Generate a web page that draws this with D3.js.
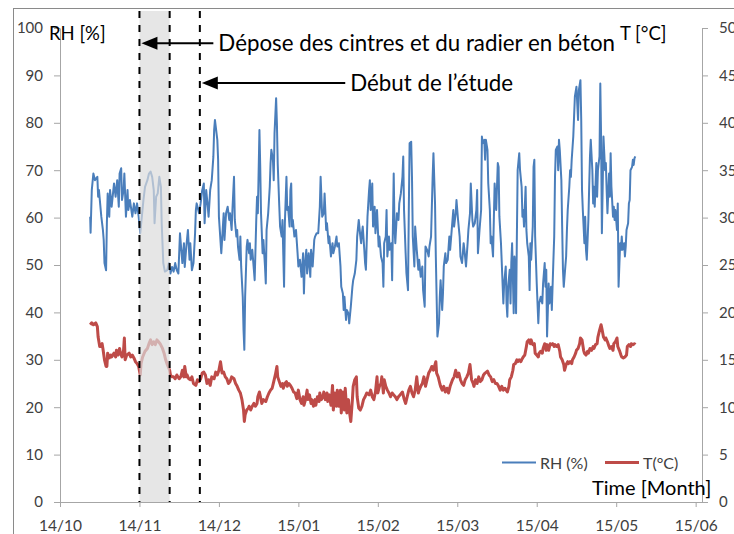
<!DOCTYPE html>
<html>
<head>
<meta charset="utf-8">
<script src="https://cdn.jsdelivr.net/npm/d3@7"></script>
<style>
  body { margin: 0; background: #fff; }
  svg text { font-family: Lato, "Open Sans", sans-serif; }
</style>
</head>
<body>
<svg id="chart" width="734" height="534"></svg>
<script>
// Time is counted in months since 14/10 (one tick per month).
const monthLabels = ["14/10", "14/11", "14/12", "15/01", "15/02", "15/03", "15/04", "15/05", "15/06"];
const rhTicks = [0, 10, 20, 30, 40, 50, 60, 70, 80, 90, 100];
const tTicks = [0, 5, 10, 15, 20, 25, 30, 35, 40, 45, 50];

// Works period (shaded) and start of the study.
const works = [1.0, 1.38];
const studyStart = 1.76;

// [month, RH %]
const rhData = [
  [0.38,60.2],[0.385,56.8],[0.40,65.8],[0.42,69.3],[0.44,67.9],[0.47,68.6],[0.48,64.4],[0.49,65.8],[0.52,60.2],[0.54,57.4],
  [0.55,55.3],[0.56,50.4],[0.58,48.9],[0.59,58.9],[0.60,65.1],[0.62,60.2],[0.63,65.8],[0.65,62.3],[0.68,67.2],[0.70,64.4],
  [0.72,67.9],[0.74,62.3],[0.75,69.3],[0.77,70.4],[0.78,63.7],[0.80,65.8],[0.81,69.3],[0.83,60.2],[0.85,65.8],[0.86,61.6],
  [0.88,63.7],[0.91,60.2],[0.93,63.0],[0.95,60.9],[0.97,63.0],[0.99,60.2],[1.01,56.7],[1.03,60.2],[1.05,63.7],[1.07,66.5],
  [1.10,67.9],[1.12,69.3],[1.14,69.7],[1.16,68.6],[1.18,65.8],[1.19,58.8],[1.21,64.4],[1.23,65.1],[1.25,68.6],[1.27,66.5],
  [1.28,58.8],[1.30,50.4],[1.32,48.6],[1.35,48.9],[1.37,50.4],[1.39,48.2],[1.41,49.6],[1.43,48.6],[1.45,50.4],[1.47,48.9],
  [1.49,48.2],[1.51,56.7],[1.54,50.4],[1.56,54.6],[1.57,49.6],[1.59,53.9],[1.61,57.4],[1.63,51.1],[1.64,54.6],[1.66,48.9],
  [1.68,50.4],[1.70,56.7],[1.71,61.6],[1.72,63.0],[1.75,60.9],[1.77,63.0],[1.79,65.8],[1.81,67.2],[1.82,58.8],[1.84,65.8],
  [1.86,62.3],[1.87,60.2],[1.89,65.8],[1.91,67.9],[1.93,72.8],[1.94,78.5],[1.95,80.6],[1.98,76.4],[1.99,72.2],[2.00,60.2],
  [2.03,52.5],[2.06,60.9],[2.07,55.3],[2.09,60.9],[2.11,62.3],[2.13,59.5],[2.14,60.9],[2.16,57.4],[2.17,61.6],[2.19,68.6],
  [2.20,59.5],[2.22,56.0],[2.23,57.4],[2.24,53.9],[2.26,51.1],[2.27,56.0],[2.28,49.7],[2.30,43.3],[2.31,36.3],[2.32,32.1],
  [2.33,43.3],[2.35,53.9],[2.36,55.3],[2.38,52.5],[2.39,54.6],[2.40,51.1],[2.42,53.2],[2.44,49.0],[2.45,46.8],[2.47,59.5],
  [2.48,64.4],[2.49,60.9],[2.51,78.5],[2.52,70.8],[2.53,60.9],[2.55,52.5],[2.56,55.3],[2.58,49.7],[2.59,46.1],[2.60,57.4],
  [2.62,60.9],[2.64,66.5],[2.65,71.4],[2.66,74.3],[2.68,72.2],[2.69,67.9],[2.70,77.8],[2.72,85.2],[2.73,79.9],[2.74,71.4],
  [2.76,62.3],[2.77,58.1],[2.79,56.0],[2.80,59.5],[2.82,45.4],[2.83,58.8],[2.85,68.6],[2.86,61.6],[2.87,62.3],[2.89,58.1],
  [2.90,65.8],[2.91,67.2],[2.92,58.1],[2.93,59.5],[2.95,56.0],[2.97,57.4],[2.99,52.5],[3.00,49.7],[3.02,51.1],[3.04,47.5],
  [3.06,52.5],[3.07,44.0],[3.08,49.7],[3.10,53.2],[3.11,48.2],[3.13,52.5],[3.15,47.5],[3.16,53.2],[3.18,49.7],[3.20,55.3],
  [3.21,56.0],[3.23,56.7],[3.25,56.7],[3.27,62.3],[3.28,68.6],[3.30,60.2],[3.32,60.9],[3.33,65.1],[3.35,57.4],[3.36,58.8],
  [3.38,54.6],[3.39,56.0],[3.41,51.8],[3.43,54.6],[3.44,52.5],[3.46,53.9],[3.48,56.0],[3.49,53.9],[3.51,54.6],[3.53,49.7],
  [3.54,45.4],[3.56,44.0],[3.57,40.5],[3.58,43.3],[3.60,38.4],[3.61,40.5],[3.63,39.8],[3.64,37.7],[3.66,41.2],[3.68,45.4],
  [3.69,46.8],[3.71,48.2],[3.73,51.1],[3.74,56.0],[3.76,59.5],[3.78,56.0],[3.79,54.6],[3.80,56.7],[3.81,58.1],[3.83,53.2],
  [3.84,50.4],[3.85,49.0],[3.87,60.2],[3.89,65.8],[3.90,67.9],[3.91,61.6],[3.93,67.2],[3.94,58.1],[3.96,62.3],[3.97,56.7],
  [3.99,61.6],[4.01,53.9],[4.02,56.0],[4.04,51.8],[4.06,50.4],[4.07,45.4],[4.08,54.6],[4.10,56.0],[4.11,61.6],[4.12,51.8],
  [4.14,56.0],[4.15,53.2],[4.17,54.6],[4.18,46.8],[4.20,69.3],[4.21,58.1],[4.22,54.6],[4.24,60.9],[4.26,59.5],[4.27,63.0],
  [4.29,65.1],[4.31,68.6],[4.32,72.9],[4.33,61.6],[4.35,52.5],[4.36,48.3],[4.38,44.7],[4.39,61.6],[4.40,75.7],[4.42,76.0],
  [4.43,68.6],[4.44,56.0],[4.46,49.7],[4.47,58.1],[4.49,53.2],[4.51,49.0],[4.52,51.1],[4.54,47.5],[4.56,49.7],[4.57,44.7],
  [4.59,41.2],[4.60,53.9],[4.62,53.2],[4.64,51.8],[4.65,53.9],[4.67,56.0],[4.69,68.6],[4.70,73.6],[4.72,63.0],[4.73,51.8],
  [4.74,43.3],[4.75,34.9],[4.77,37.7],[4.78,43.3],[4.79,46.8],[4.81,40.5],[4.82,44.0],[4.83,49.7],[4.85,52.5],[4.86,50.4],
  [4.88,51.1],[4.90,56.0],[4.91,53.2],[4.93,57.4],[4.95,61.6],[4.96,58.1],[4.98,60.9],[4.99,63.7],[5.01,59.5],[5.03,56.0],
  [5.04,51.8],[5.06,50.4],[5.08,54.6],[5.09,53.2],[5.11,49.7],[5.13,54.6],[5.14,57.4],[5.16,60.9],[5.17,67.2],[5.19,59.5],
  [5.20,58.1],[5.22,58.8],[5.24,61.6],[5.25,65.8],[5.26,52.5],[5.28,57.4],[5.30,61.6],[5.31,77.1],[5.32,75.7],[5.34,76.4],
  [5.35,72.2],[5.36,76.4],[5.38,74.3],[5.39,67.2],[5.41,61.6],[5.42,54.6],[5.43,56.0],[5.45,51.8],[5.46,59.5],[5.47,67.2],
  [5.49,61.6],[5.51,71.5],[5.52,70.7],[5.53,60.2],[5.55,54.6],[5.58,41.9],[5.59,46.1],[5.61,49.7],[5.62,41.9],[5.63,39.1],
  [5.64,45.4],[5.66,49.0],[5.67,41.9],[5.68,50.4],[5.69,54.6],[5.71,39.8],[5.72,51.8],[5.73,49.0],[5.74,39.8],[5.75,56.0],
  [5.76,70.0],[5.78,73.6],[5.79,70.0],[5.81,66.5],[5.82,60.2],[5.83,61.6],[5.84,58.1],[5.86,66.5],[5.87,57.4],[5.88,54.6],
  [5.90,51.8],[5.91,44.7],[5.92,54.6],[5.93,51.1],[5.95,58.1],[5.96,70.7],[5.97,72.2],[5.98,56.0],[6.00,46.1],[6.01,41.9],
  [6.02,37.7],[6.03,41.9],[6.05,43.3],[6.07,41.9],[6.08,46.1],[6.10,50.4],[6.11,45.4],[6.12,49.0],[6.13,34.9],[6.15,46.1],
  [6.16,41.9],[6.18,45.4],[6.19,40.5],[6.21,51.1],[6.22,56.0],[6.23,68.6],[6.24,74.3],[6.26,75.0],[6.27,70.0],[6.28,76.4],
  [6.29,74.3],[6.31,67.9],[6.32,58.1],[6.33,49.0],[6.34,45.4],[6.36,49.7],[6.37,51.8],[6.38,57.4],[6.39,61.6],[6.41,66.5],
  [6.42,70.0],[6.43,68.6],[6.44,72.2],[6.46,77.1],[6.47,81.3],[6.48,85.5],[6.50,87.6],[6.51,84.1],[6.52,80.6],[6.53,86.9],
  [6.55,89.0],[6.56,80.6],[6.57,65.8],[6.58,61.6],[6.60,54.6],[6.61,60.2],[6.62,53.2],[6.63,51.1],[6.65,59.5],[6.66,66.5],
  [6.67,72.9],[6.68,76.4],[6.70,70.0],[6.71,63.0],[6.72,66.5],[6.73,62.3],[6.75,71.5],[6.76,64.4],[6.77,70.0],[6.79,72.9],
  [6.80,88.3],[6.81,77.1],[6.82,56.7],[6.83,66.5],[6.84,77.1],[6.86,70.0],[6.87,71.5],[6.88,65.8],[6.89,60.9],[6.91,69.3],
  [6.92,64.4],[6.93,73.6],[6.94,66.5],[6.96,60.2],[6.97,62.3],[6.98,59.5],[6.99,61.6],[7.01,57.4],[7.02,63.0],[7.03,45.4],
  [7.05,54.6],[7.06,53.2],[7.07,56.0],[7.08,53.2],[7.10,54.6],[7.11,51.8],[7.12,53.9],[7.13,57.4],[7.15,58.8],[7.16,63.0],
  [7.17,63.7],[7.18,70.0],[7.20,70.7],[7.21,72.2],[7.22,71.1],[7.23,72.5],[7.24,72.9]
];

// [month, T °C]
const tData = [
  [0.38,18.7],[0.40,18.9],[0.42,18.7],[0.45,18.9],[0.47,18.5],[0.48,17.4],[0.50,16.4],[0.51,16.4],[0.53,16.7],[0.54,16.2],
  [0.56,15.0],[0.58,14.3],[0.59,14.3],[0.60,15.7],[0.62,15.2],[0.64,15.5],[0.65,15.3],[0.68,15.7],[0.70,15.3],[0.71,16.0],
  [0.73,15.5],[0.75,16.2],[0.76,15.7],[0.78,15.3],[0.80,16.0],[0.81,17.3],[0.82,15.0],[0.84,15.5],[0.87,15.7],[0.89,15.3],
  [0.91,15.5],[0.93,15.2],[0.95,14.8],[0.97,14.6],[0.99,14.3],[1.01,13.4],[1.02,14.6],[1.04,15.3],[1.07,15.9],[1.10,16.2],
  [1.12,16.7],[1.14,17.1],[1.16,16.6],[1.18,16.9],[1.20,16.6],[1.22,17.1],[1.24,16.9],[1.26,16.7],[1.29,16.2],[1.31,15.7],
  [1.33,15.0],[1.35,14.5],[1.38,13.9],[1.39,13.4],[1.41,13.2],[1.43,13.2],[1.45,13.0],[1.47,13.4],[1.50,13.0],[1.52,13.2],
  [1.54,13.9],[1.56,13.2],[1.57,14.3],[1.59,13.2],[1.60,13.4],[1.62,13.0],[1.64,12.9],[1.66,13.2],[1.68,12.5],[1.71,12.3],
  [1.73,12.9],[1.75,12.7],[1.77,13.0],[1.79,13.6],[1.81,13.7],[1.83,13.4],[1.85,12.5],[1.87,12.9],[1.89,12.3],[1.91,13.2],
  [1.94,13.0],[1.96,13.7],[1.98,13.4],[2.00,13.9],[2.02,14.8],[2.04,13.6],[2.06,13.7],[2.08,13.2],[2.10,13.0],[2.12,12.5],
  [2.14,12.7],[2.16,13.2],[2.19,13.0],[2.21,12.5],[2.23,12.2],[2.25,11.8],[2.27,11.5],[2.29,10.8],[2.31,9.7],[2.32,8.5],
  [2.33,9.2],[2.35,9.7],[2.37,9.9],[2.38,10.1],[2.40,9.7],[2.42,10.1],[2.44,10.4],[2.46,10.1],[2.48,10.4],[2.49,11.1],
  [2.51,11.6],[2.53,10.8],[2.54,10.4],[2.56,10.8],[2.59,10.6],[2.61,11.1],[2.63,11.5],[2.65,11.8],[2.67,12.0],[2.69,12.7],
  [2.71,13.4],[2.73,14.3],[2.74,13.2],[2.76,12.7],[2.78,12.2],[2.80,12.5],[2.81,12.0],[2.83,12.5],[2.85,12.7],[2.86,12.2],
  [2.88,12.5],[2.90,12.3],[2.92,12.0],[2.94,11.6],[2.96,11.5],[2.98,10.9],[3.00,11.8],[3.02,10.8],[3.04,10.4],[3.06,11.1],
  [3.07,10.2],[3.09,10.8],[3.11,11.8],[3.12,10.8],[3.14,11.3],[3.16,10.4],[3.17,10.8],[3.19,10.1],[3.21,10.8],[3.22,10.2],
  [3.24,11.1],[3.26,10.6],[3.27,11.5],[3.29,10.8],[3.31,11.1],[3.32,11.6],[3.34,10.8],[3.36,11.5],[3.37,10.6],[3.39,11.3],
  [3.41,10.2],[3.43,12.3],[3.44,9.7],[3.46,11.5],[3.48,10.1],[3.49,11.8],[3.51,10.1],[3.53,11.8],[3.54,9.4],[3.56,11.6],
  [3.58,9.7],[3.59,12.0],[3.61,9.4],[3.63,10.8],[3.64,9.7],[3.66,8.5],[3.68,10.8],[3.69,12.2],[3.71,12.9],[3.73,13.2],
  [3.74,11.1],[3.76,9.9],[3.78,9.7],[3.80,10.1],[3.82,10.8],[3.84,11.1],[3.86,11.5],[3.89,11.3],[3.91,11.8],[3.93,11.1],
  [3.95,10.8],[3.97,11.6],[3.99,13.2],[4.00,11.5],[4.02,12.2],[4.04,12.5],[4.05,13.2],[4.07,11.5],[4.08,12.9],[4.10,12.2],
  [4.12,11.8],[4.14,11.5],[4.16,11.1],[4.18,11.5],[4.20,11.3],[4.22,11.1],[4.24,10.8],[4.26,11.1],[4.28,11.3],[4.31,11.6],
  [4.33,10.9],[4.35,10.4],[4.37,11.1],[4.39,11.8],[4.41,12.2],[4.43,11.5],[4.45,11.1],[4.47,11.8],[4.49,13.2],[4.51,11.5],
  [4.52,11.8],[4.54,12.2],[4.56,12.5],[4.58,13.2],[4.60,12.2],[4.62,12.9],[4.64,13.6],[4.66,13.9],[4.68,14.3],[4.70,13.9],
  [4.73,14.8],[4.74,13.6],[4.76,13.2],[4.78,12.5],[4.79,12.2],[4.81,11.8],[4.83,12.2],[4.85,11.6],[4.87,12.0],[4.89,11.5],
  [4.91,12.2],[4.94,12.9],[4.96,13.2],[4.98,13.9],[5.00,13.2],[5.02,13.6],[5.04,12.9],[5.06,12.5],[5.08,12.3],[5.10,12.9],
  [5.12,13.2],[5.14,13.6],[5.16,14.5],[5.18,12.9],[5.20,12.5],[5.21,12.2],[5.23,12.9],[5.25,12.5],[5.27,13.2],[5.29,12.7],
  [5.31,12.9],[5.33,13.4],[5.35,13.6],[5.38,13.8],[5.40,13.4],[5.42,13.2],[5.44,12.7],[5.46,12.9],[5.48,12.5],[5.50,12.5],
  [5.52,12.2],[5.54,11.8],[5.56,12.2],[5.58,11.8],[5.60,12.0],[5.63,11.6],[5.65,12.2],[5.66,12.9],[5.68,13.2],[5.70,13.9],
  [5.71,14.5],[5.73,14.6],[5.75,15.0],[5.76,14.8],[5.78,15.0],[5.80,14.8],[5.81,15.0],[5.83,15.3],[5.85,15.5],[5.87,16.4],
  [5.88,16.9],[5.90,17.1],[5.92,16.7],[5.93,17.1],[5.95,16.6],[5.97,16.7],[5.98,15.7],[6.00,15.5],[6.02,15.3],[6.03,15.7],
  [6.05,15.9],[6.07,15.7],[6.08,16.2],[6.10,16.7],[6.12,16.0],[6.13,16.6],[6.15,16.0],[6.17,16.7],[6.18,16.6],[6.20,16.7],
  [6.22,16.4],[6.23,16.6],[6.25,16.4],[6.27,16.6],[6.29,15.9],[6.30,15.3],[6.32,15.0],[6.34,14.5],[6.35,13.9],[6.37,14.5],
  [6.39,14.8],[6.40,14.6],[6.42,14.8],[6.44,14.6],[6.45,15.0],[6.47,15.3],[6.49,15.7],[6.50,16.0],[6.52,16.2],[6.54,16.7],
  [6.55,17.3],[6.57,17.1],[6.59,16.0],[6.60,15.7],[6.62,15.5],[6.64,15.9],[6.65,15.7],[6.67,16.2],[6.69,16.0],[6.71,16.4],
  [6.72,16.2],[6.74,16.6],[6.76,16.7],[6.77,17.4],[6.79,18.1],[6.81,18.7],[6.82,18.3],[6.84,17.4],[6.86,17.1],[6.87,17.3],
  [6.89,16.9],[6.91,16.4],[6.92,16.2],[6.94,16.4],[6.96,16.0],[6.97,16.7],[6.99,16.9],[7.01,17.3],[7.02,16.4],[7.04,16.0],
  [7.06,15.5],[7.07,15.3],[7.09,15.2],[7.11,15.3],[7.13,15.5],[7.14,16.4],[7.16,16.6],[7.18,16.4],[7.19,16.7],[7.21,16.6],
  [7.23,16.7],[7.24,16.6]
];

// Arrow annotations: tip at a month, tail at a month, height on the RH scale.
const annotations = [
  { label: "Dépose des cintres et du radier en béton", tip: works[0], tail: 1.93, level: 96.8 },
  { label: "Début de l’étude", tip: studyStart, tail: 3.59, level: 88.4 }
];

const rhColor = "#4a7ebb";
const tColor = "#be4b48";
const axisColor = "#a6a6a6";

const svg = d3.select("#chart");

// Scales: both value axes share the same pixel range.
const x = d3.scaleLinear().domain([0, 8.08]).range([60, 702]);
const yRH = d3.scaleLinear().domain([0, 100]).range([502, 28]);
const yT = d3.scaleLinear().domain([0, 50]).range([502, 28]);

// Chart frame (runs off the right and bottom edges like the original).
svg.append("rect")
  .attr("x", 13.5).attr("y", 8.5)
  .attr("width", 800).attr("height", 600)
  .attr("fill", "none")
  .attr("stroke", "#8a8a8a");

function styleAxis(g, size) {
  g.select(".domain").attr("stroke", axisColor);
  g.selectAll(".tick line").attr("stroke", axisColor);
  g.selectAll(".tick text")
    .attr("fill", "#404040")
    .style("font-size", size + "px");
}

// Left axis (RH).
svg.append("g")
  .attr("transform", "translate(60,0)")
  .call(d3.axisLeft(yRH).tickValues(rhTicks).tickSize(6).tickSizeOuter(0).tickPadding(11))
  .call(g => styleAxis(g, 15));

// Right axis (T), its labels run off the edge as in the original.
svg.append("g")
  .attr("transform", "translate(702,0)")
  .call(d3.axisRight(yT).tickValues(tTicks).tickSize(6).tickSizeOuter(0).tickPadding(11))
  .call(g => styleAxis(g, 15));

// Bottom axis (months).
const xAxis = svg.append("g")
  .attr("transform", "translate(0,502)")
  .call(d3.axisBottom(x).tickValues(d3.range(monthLabels.length))
    .tickFormat(i => monthLabels[i]).tickSize(5).tickSizeOuter(0))
  .call(g => styleAxis(g, 15.5));
xAxis.selectAll(".tick text").attr("y", 23).attr("dy", "0.36em");

// Data lines.
const lineRH = d3.line().x(d => x(d[0])).y(d => yRH(d[1]));
const lineT = d3.line().x(d => x(d[0])).y(d => yT(d[1]));

svg.append("path")
  .datum(rhData)
  .attr("fill", "none")
  .attr("stroke", rhColor)
  .attr("stroke-width", 2)
  .attr("stroke-linejoin", "round")
  .attr("d", lineRH);

svg.append("path")
  .datum(tData)
  .attr("fill", "none")
  .attr("stroke", tColor)
  .attr("stroke-width", 3)
  .attr("stroke-linejoin", "round")
  .attr("d", lineT);

// Works period: translucent grey band over the curves.
svg.append("rect")
  .attr("x", x(works[0]))
  .attr("y", yRH(103.6))
  .attr("width", x(works[1]) - x(works[0]))
  .attr("height", yRH(0) - yRH(103.6))
  .attr("fill", "#dbdbdb")
  .attr("fill-opacity", 0.7);

// Dashed markers.
svg.selectAll(".marker")
  .data([works[0], works[1], studyStart])
  .enter().append("line")
  .attr("class", "marker")
  .attr("x1", d => x(d)).attr("x2", d => x(d))
  .attr("y1", yRH(103.6)).attr("y2", yRH(0))
  .attr("stroke", "#000")
  .attr("stroke-width", 2)
  .attr("stroke-dasharray", "7,7");

// Arrows and their labels.
annotations.forEach(function (a) {
  let yy = yRH(a.level);
  let tipX = x(a.tip) + 2;
  svg.append("line")
    .attr("x1", tipX + 12).attr("x2", x(a.tail))
    .attr("y1", yy).attr("y2", yy)
    .attr("stroke", "#000")
    .attr("stroke-width", 2);
  svg.append("path")
    .attr("d", `M${tipX},${yy} L${tipX + 16},${yy - 6.5} L${tipX + 16},${yy + 6.5} Z`)
    .attr("fill", "#000");
  svg.append("text")
    .attr("x", x(a.tail) + 5)
    .attr("y", yy + 8)
    .style("font-size", "22.3px")
    .attr("fill", "#000")
    .text(a.label);
});

// Axis titles.
svg.append("text")
  .attr("x", 49).attr("y", 40)
  .style("font-size", "18.5px")
  .text("RH [%]");

svg.append("text")
  .attr("x", 620).attr("y", 40)
  .style("font-size", "18.5px")
  .text("T [°C]");

svg.append("text")
  .attr("x", 592).attr("y", 495)
  .style("font-size", "20px")
  .text("Time [Month]");

// Legend.
const legend = [
  { name: "RH (%)", color: rhColor, width: 2, x0: 502 },
  { name: "T(°C)", color: tColor, width: 3, x0: 605 }
];
legend.forEach(function (l) {
  svg.append("line")
    .attr("x1", l.x0).attr("x2", l.x0 + 34)
    .attr("y1", 462.5).attr("y2", 462.5)
    .attr("stroke", l.color)
    .attr("stroke-width", l.width);
  svg.append("text")
    .attr("x", l.x0 + 38).attr("y", 469)
    .style("font-size", "16px")
    .attr("fill", "#404040")
    .text(l.name);
});
</script>
</body>
</html>
